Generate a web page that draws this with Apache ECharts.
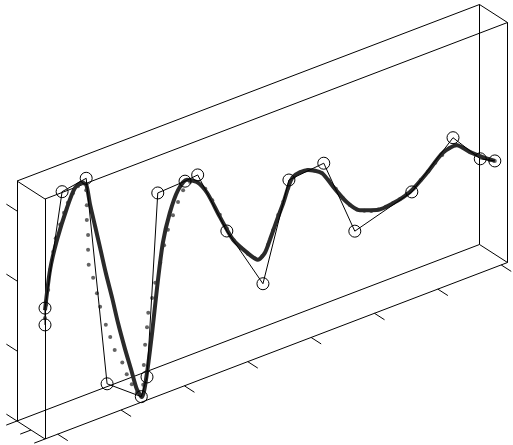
<!DOCTYPE html>
<html><head><meta charset="utf-8">
<script src="https://cdn.jsdelivr.net/npm/echarts@6/dist/echarts.min.js"></script>
<style>html,body{margin:0;padding:0;background:#fff}#c{width:513px;height:445px}</style>
</head><body><div id="c"></div>
<script>
// ---- data (x along box, z value; all data lie on the front plane, depth = 1) ----
const rawX = [-0.20,-0.20,0.07,0.45,0.78,1.32,1.41,1.58,2.01,2.21,2.67,3.24,3.65,4.20,4.69,5.59,6.24,6.67,6.90];
const rawZ = [1.63,1.87,3.44,3.50,0.45,0.08,0.33,2.90,2.92,2.94,1.98,1.03,2.37,2.42,1.28,1.53,2.08,1.63,1.52];

const fitX = [-0.20,-0.12,-0.01,0.15,0.27,0.38,0.45,0.51,0.59,0.67,0.76,0.86,0.95,1.06,1.16,1.25,1.33,1.41,1.49,1.57,1.66,1.77,1.90,2.04,2.20,2.36,2.56,2.77,2.99,3.16,3.27,3.35,3.45,3.56,3.71,3.95,4.17,4.35,4.57,4.77,5.04,5.29,5.56,5.83,6.08,6.30,6.51,6.71,6.90];
const fitZ = [1.84,2.39,2.78,3.19,3.42,3.46,3.41,3.11,2.77,2.43,2.04,1.65,1.27,0.86,0.52,0.21,0.07,0.39,0.93,1.56,2.16,2.55,2.83,2.93,2.84,2.63,2.22,1.82,1.56,1.40,1.46,1.62,1.84,2.07,2.39,2.41,2.29,2.03,1.73,1.55,1.46,1.47,1.54,1.72,1.92,1.95,1.78,1.64,1.52];

const dotX = [-0.20,-0.18,-0.15,-0.12,-0.07,-0.03,0.04,0.10,0.16,0.24,0.32,0.40,0.45,0.46,0.46,0.48,0.48,0.49,0.56,0.62,0.67,0.76,0.83,0.90,1.02,1.09,1.17,1.25,1.32,1.35,1.36,1.38,1.41,1.43,1.49,1.54,1.62,1.68,1.74,1.82,1.90,1.98,2.09,2.21,2.33,2.44,2.56,2.67,2.78,2.89,3.00,3.11,3.23,3.32,3.40,3.48,3.56,3.64,3.73,3.84,3.95,4.06,4.17,4.28,4.39,4.50,4.61,4.72,4.84,4.95,5.06,5.18,5.29,5.40,5.51,5.62,5.73,5.85,5.96,6.07,6.18,6.29,6.40,6.51,6.62,6.73,6.82,6.90];
const dotZ = [1.73,1.91,2.11,2.39,2.63,2.81,2.98,3.13,3.25,3.36,3.43,3.46,3.33,3.11,2.90,2.68,2.47,2.25,2.04,1.80,1.59,1.30,1.10,0.89,0.67,0.48,0.31,0.16,0.08,0.24,0.52,0.80,1.04,1.24,1.43,1.63,1.89,2.12,2.32,2.50,2.66,2.80,2.88,2.84,2.70,2.50,2.25,2.02,1.81,1.66,1.54,1.44,1.43,1.56,1.74,1.93,2.09,2.26,2.39,2.42,2.41,2.36,2.29,2.15,1.99,1.82,1.68,1.58,1.52,1.48,1.46,1.46,1.47,1.49,1.53,1.57,1.65,1.73,1.82,1.89,1.95,1.96,1.88,1.78,1.70,1.62,1.56,1.52];

// axis ranges and ticks
const xRange = [-0.2, 7.1];
const yRange = [0, 1];          // depth
const zRange = [0, 240 / 70];
const xTicks = [0,1,2,3,4,5,6,7];
const yTicks = [0,0.5,1];
const zTicks = [0,1,2,3];
const dataDepth = 1;

// ---- oblique projection of the 3-D box onto the page ----
const O = [17, 421];                 // back-bottom-left corner
const EX = [462.5, -176.5];          // full x range
const EY = [28, 18];                 // full depth
const EZ = [0, -240];                // full z range
function proj(x, y, z) {
  const tx = (x - xRange[0]) / (xRange[1] - xRange[0]);
  const ty = (y - yRange[0]) / (yRange[1] - yRange[0]);
  const tz = (z - zRange[0]) / (zRange[1] - zRange[0]);
  return [O[0] + EX[0]*tx + EY[0]*ty + EZ[0]*tz,
          O[1] + EX[1]*tx + EY[1]*ty + EZ[1]*tz];
}

const X0 = xRange[0], X1 = xRange[1], Y0 = yRange[0], Y1 = yRange[1], Z0 = zRange[0], Z1 = zRange[1];
const edges3 = [
  [[X0,Y0,Z0],[X1,Y0,Z0]], [[X0,Y1,Z0],[X1,Y1,Z0]], [[X0,Y0,Z1],[X1,Y0,Z1]], [[X0,Y1,Z1],[X1,Y1,Z1]],
  [[X0,Y0,Z0],[X0,Y1,Z0]], [[X1,Y0,Z0],[X1,Y1,Z0]], [[X0,Y0,Z1],[X0,Y1,Z1]], [[X1,Y0,Z1],[X1,Y1,Z1]],
  [[X0,Y0,Z0],[X0,Y0,Z1]], [[X0,Y1,Z0],[X0,Y1,Z1]], [[X1,Y0,Z0],[X1,Y0,Z1]], [[X1,Y1,Z0],[X1,Y1,Z1]]
];
const boxLines = edges3.map(e => ({coords: [proj(...e[0]), proj(...e[1])]}));
const tickLines = [];
xTicks.forEach(v => tickLines.push({coords: [proj(v, Y1, Z0), proj(v, Y1 + 0.36, Z0)]}));
zTicks.forEach(v => tickLines.push({coords: [proj(X0, Y0, v), proj(X0, Y0 - 0.38, v)]}));
yTicks.forEach(v => tickLines.push({coords: [proj(X0, v, Z0), proj(X0 - 0.17, v, Z0)]}));

const rawPts = rawX.map((x, i) => proj(x, dataDepth, rawZ[i]));
const fitPts = fitX.map((x, i) => proj(x, dataDepth, fitZ[i]));
const dotPts = dotX.map((x, i) => proj(x, dataDepth, dotZ[i]));

const chart = echarts.init(document.getElementById('c'), null, {renderer: 'canvas'});
chart.setOption({
  animation: false,
  backgroundColor: '#ffffff',
  grid: {left: 0, top: 0, right: 0, bottom: 0},
  xAxis: {type: 'value', min: 0, max: 513, show: false},
  yAxis: {type: 'value', min: 0, max: 445, inverse: true, show: false},
  series: [
    {type: 'lines', coordinateSystem: 'cartesian2d', data: boxLines, silent: true,
     lineStyle: {color: '#000', width: 1, opacity: 1}},
    {type: 'lines', coordinateSystem: 'cartesian2d', data: tickLines, silent: true,
     lineStyle: {color: '#000', width: 1, opacity: 1}},
    {type: 'line', data: fitPts, showSymbol: false, smooth: 0.25,
     lineStyle: {color: '#2a2a2a', width: 4}},
    {type: 'scatter', data: dotPts, symbol: 'circle', symbolSize: 4,
     itemStyle: {color: '#3c3c3c'}},
    {type: 'line', data: rawPts, symbol: 'circle', symbolSize: 12, showSymbol: true,
     lineStyle: {color: '#000', width: 1},
     itemStyle: {color: 'rgba(0,0,0,0)', borderColor: '#000', borderWidth: 1}}
  ]
});
</script></body></html>
